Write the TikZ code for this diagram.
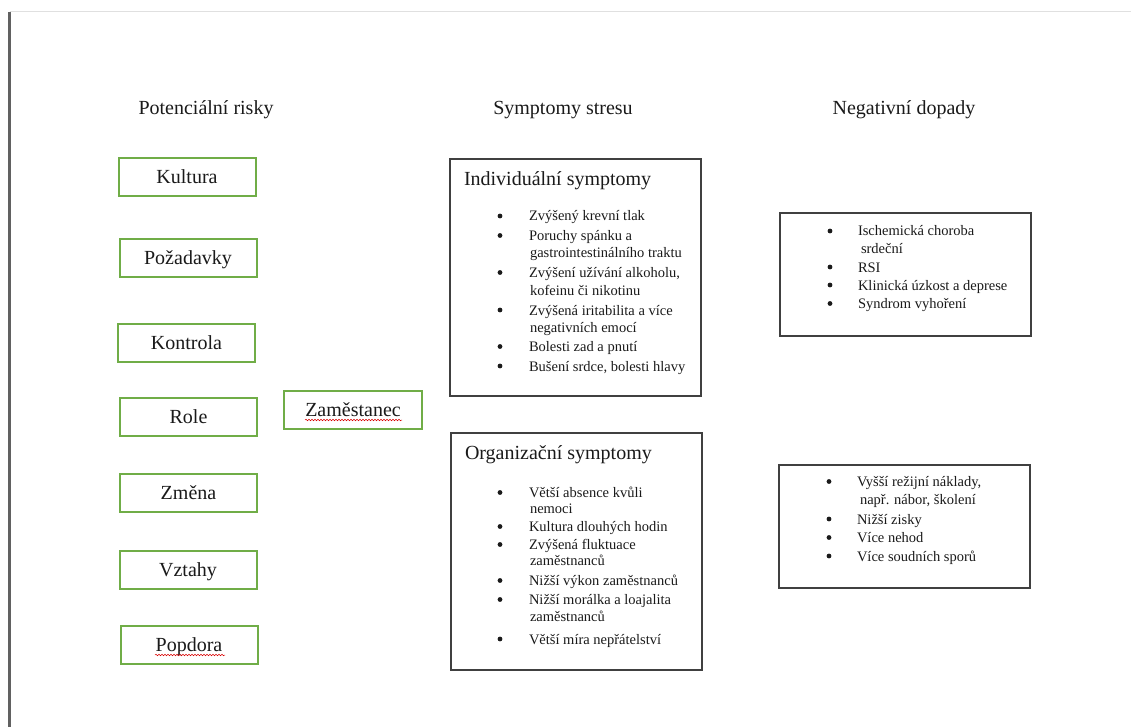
\documentclass[tikz,border=0pt]{standalone}
\usepackage{fontspec}
\setmainfont{Liberation Serif}
\usetikzlibrary{decorations.pathmorphing}
\definecolor{boxgreen}{HTML}{70AD47}
\definecolor{txt}{HTML}{1A1A1A}
\newcommand{\bitem}[5]{\node[bul] (#1b) at (#2,#4-5) {}; \node[itm] (#1) at (#3,#4) {#5};}
\newcommand{\contl}[4]{\node[itm] (#1) at (#2,#3) {#4};}
\begin{document}
\begin{tikzpicture}[x=1pt,y=-1pt,
 every node/.style={inner sep=0pt, outer sep=0pt, text=txt},
 hdr/.style={font=\fontsize{20}{24}\selectfont, anchor=base},
 riskbox/.style={draw=boxgreen, line width=2pt, minimum width=137pt, minimum height=38pt, font=\fontsize{20}{24}\selectfont, text height=15pt, text depth=2pt},
 bigbox/.style={draw=black!75, line width=1.2pt, minimum width=251pt},
 ttl/.style={font=\fontsize{20}{24}\selectfont, anchor=base west},
 itm/.style={font=\fontsize{14.5}{17}\selectfont, anchor=base west},
 bul/.style={circle, fill=txt, minimum size=4.8pt},
 squig/.style={draw=red!85!black, line width=0.5pt, decorate, decoration={snake, amplitude=0.8pt, segment length=3pt}}
]
\useasboundingbox (0,0) rectangle (1131,727);
\fill[white] (0,0) rectangle (1131,727);
\coordinate (tl) at (9.5,12);
\coordinate (tr) at (1131,12);
\coordinate (bl) at (9.5,727);
\draw[black!12, line width=1pt] (tl) -- (tr);
\draw[black!62, line width=3pt] (tl) -- (bl);

% headers
\node[hdr] (h1) at (206,115) {Potenciální risky};
\node[hdr] (h2) at (563,115) {Symptomy stresu};
\node[hdr] (h3) at (904,115) {Negativní dopady};

% risk boxes
\node[riskbox] (kultura) at (187,177) {Kultura};
\node[riskbox] (pozadavky) at (188,258) {Požadavky};
\node[riskbox] (kontrola) at (186.5,343) {Kontrola};
\node[riskbox] (role) at (188.5,416.5) {Role};
\node[riskbox] (zmena) at (188.5,492.5) {Změna};
\node[riskbox] (vztahy) at (188,570) {Vztahy};
\node[riskbox] (popdora) at (189,645) {Popdora};
\node[riskbox, minimum width=138pt] (zam) at (353,410) {Zaměstanec};
\coordinate (zs1) at (305,420);
\coordinate (zs2) at (402,420);
\draw[squig] (zs1) -- (zs2);
\coordinate (ps1) at (155,655);
\coordinate (ps2) at (225,655);
\draw[squig] (ps1) -- (ps2);

% big boxes
\node[bigbox, minimum height=237pt] (indiv) at (575.5,277.5) {};
\node[bigbox, minimum height=237pt] (org) at (576.5,551.5) {};
\node[bigbox, minimum height=123pt] (neg1) at (905.5,274.5) {};
\node[bigbox, minimum height=123pt] (neg2) at (904.5,526.5) {};

% individual symptoms
\node[ttl] (indivt) at (464,186) {Individuální symptomy};
\bitem{i1}{500}{529}{221}{Zvýšený krevní tlak}
\bitem{i2}{500}{529}{240.5}{Poruchy spánku a}
\contl{i2c}{530}{257}{gastrointestinálního traktu}
\bitem{i3}{500}{529}{277.5}{Zvýšení užívání alkoholu,}
\contl{i3c}{530}{295.5}{kofeinu či nikotinu}
\bitem{i4}{500}{529}{315}{Zvýšená iritabilita a více}
\contl{i4c}{530}{332.5}{negativních emocí}
\bitem{i5}{500}{529}{351.5}{Bolesti zad a pnutí}
\bitem{i6}{500}{529}{371}{Bušení srdce, bolesti hlavy}

% organizational symptoms
\node[ttl] (orgt) at (465,459.5) {Organizační symptomy};
\bitem{o1}{500}{529}{497.5}{Větší absence kvůli}
\contl{o1c}{530}{513}{nemoci}
\bitem{o2}{500}{529}{531.5}{Kultura dlouhých hodin}
\bitem{o3}{500}{529}{549.5}{Zvýšená fluktuace}
\contl{o3c}{530}{565}{zaměstnanců}
\bitem{o4}{500}{529}{585.5}{Nižší výkon zaměstnanců}
\bitem{o5}{500}{529}{604.5}{Nižší morálka a loajalita}
\contl{o5c}{530}{621.5}{zaměstnanců}
\bitem{o6}{500}{529}{644}{Větší míra nepřátelství}

% negative impacts 1
\bitem{n1}{830}{858}{236}{Ischemická choroba}
\contl{n1c}{861}{253}{srdeční}
\bitem{n2}{830}{858}{272}{RSI}
\bitem{n3}{830}{858}{290}{Klinická úzkost a deprese}
\bitem{n4}{830}{858}{308.5}{Syndrom vyhoření}

% negative impacts 2
\bitem{m1}{829}{857}{486.5}{Vyšší režijní náklady,}
\contl{m1c}{860}{504}{např. nábor, školení}
\bitem{m2}{829}{857}{524}{Nižší zisky}
\bitem{m3}{829}{857}{542.5}{Více nehod}
\bitem{m4}{829}{857}{561}{Více soudních sporů}
\end{tikzpicture}
\end{document}
